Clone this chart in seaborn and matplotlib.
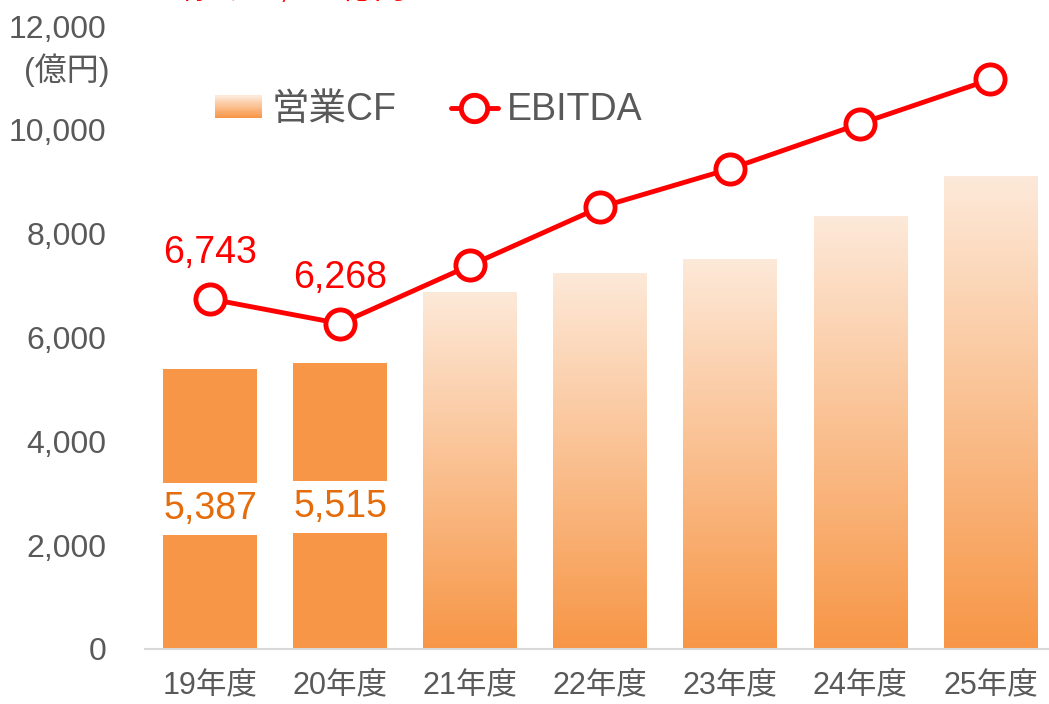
import numpy as np
import pandas as pd
import matplotlib
matplotlib.use("Agg")
import matplotlib.pyplot as plt
import seaborn as sns
from matplotlib.colors import LinearSegmentedColormap
from matplotlib.patches import Rectangle
from matplotlib.lines import Line2D
from matplotlib.legend_handler import HandlerBase

years = ['19年度', '20年度', '21年度', '22年度', '23年度', '24年度', '25年度']
cf = [5387, 5515, 6880, 7250, 7520, 8340, 9110]
ebitda = [6743, 6268, 7390, 8510, 9250, 10120, 10970]
cf_labels = ['5,387', '5,515']
ebitda_labels = ['6,743', '6,268']
yticks = [0, 2000, 4000, 6000, 8000, 10000, 12000]

sns.set_theme(style='white')
plt.rcParams['font.family'] = ['Liberation Sans', 'Noto Sans CJK JP', 'DejaVu Sans']

ORANGE = '#F79646'
LIGHT = '#FDE9D9'
GREY = '#595959'
RED = '#FF0000'
LABEL_ORANGE = '#E46C0A'

fig = plt.figure(figsize=(10.49, 7.04), dpi=100)
ax = fig.add_axes([145/1049, 55/704, 1 - 145/1049, 623/704])

df = pd.DataFrame({'year': years, 'cf': cf, 'ebitda': ebitda})
sns.barplot(data=df, x='year', y='cf', color=ORANGE, saturation=1, width=0.72, ax=ax, zorder=2)

cmap = LinearSegmentedColormap.from_list('grad', [ORANGE, LIGHT])
grad = np.linspace(0, 1, 256).reshape(-1, 1)
bars = list(ax.patches)
for i, bar in enumerate(bars):
    bar.set_edgecolor('none')
    if i >= 2:
        x0, y0 = bar.get_x(), bar.get_y()
        w, h = bar.get_width(), bar.get_height()
        bar.set_facecolor('none')
        im = ax.imshow(grad, cmap=cmap, origin='lower', aspect='auto',
                       extent=[x0, x0 + w, y0, y0 + h], zorder=2)
        im.set_clip_path(bar)

sns.lineplot(data=df, x='year', y='ebitda', sort=False, color=RED, lw=3.5, marker='o',
             markersize=21, markerfacecolor='white', markeredgecolor=RED,
             markeredgewidth=3.5, ax=ax, zorder=4)

ax.set_xlim(-0.5, 6.45)
ax.set_ylim(0, 12000)
ax.set_yticks(yticks)
ax.set_yticklabels([f'{v:,}' for v in yticks])
ax.tick_params(axis='y', length=0, pad=28, labelsize=23, labelcolor=GREY)
ax.tick_params(axis='x', length=0, pad=15, labelsize=22, labelcolor=GREY)
ax.set_xlabel('')
ax.set_ylabel('')
for s in ['left', 'right', 'top']:
    ax.spines[s].set_visible(False)
ax.spines['bottom'].set_color('#D9D9D9')
ax.spines['bottom'].set_linewidth(1.5)
ax.grid(False)

# data labels on the first two bars, on a white band across the bar
for i, lab in enumerate(cf_labels):
    b = bars[i]
    ax.add_patch(Rectangle((b.get_x(), 2190 + 40 * i), b.get_width(), 1000, fc='white', ec='none', zorder=3))
    ax.text(i, 2700 + 40 * i, lab, ha='center', va='center', fontsize=27, color=LABEL_ORANGE, zorder=5)
for i, lab in enumerate(ebitda_labels):
    ax.text(i, ebitda[i] + 880, lab, ha='center', va='center', fontsize=27, color=RED, zorder=5)

fig.text(67/1049, 1 - 70/704, '(億円)', ha='center', va='center', fontsize=23, color=GREY)

# title cut off at the top edge (only its lower edge shows, as in the reference)
fig.text(277/1049, 1 - 5/704, '目標1兆1,000億円', ha='center', va='bottom', fontsize=23, color=RED)


class GradHandler(HandlerBase):
    def create_artists(self, legend, orig_handle, xdescent, ydescent, width, height, fontsize, trans):
        arts = []
        n = 20
        for k in range(n):
            c = cmap(k / (n - 1))
            r = Rectangle((-xdescent, -ydescent + height * k / n), width, height / n + 0.3,
                          facecolor=c, edgecolor='none', transform=trans)
            arts.append(r)
        return arts


grad_handle = Rectangle((0, 0), 1, 1)
line_handle = Line2D([], [], color=RED, lw=3.5, marker='o', markersize=19,
                     markerfacecolor='white', markeredgecolor=RED, markeredgewidth=3.5)
leg = fig.legend([grad_handle, line_handle], ['営業CF', 'EBITDA'], ncol=2,
                 handler_map={Rectangle: GradHandler()},
                 loc='center left', bbox_to_anchor=(215/1049, 1 - 110/704),
                 frameon=False, fontsize=27, labelcolor=GREY, handlelength=1.25,
                 handleheight=0.55, handletextpad=0.25, columnspacing=1.45,
                 borderpad=0, borderaxespad=0)

fig.savefig('out.png', dpi=100)
